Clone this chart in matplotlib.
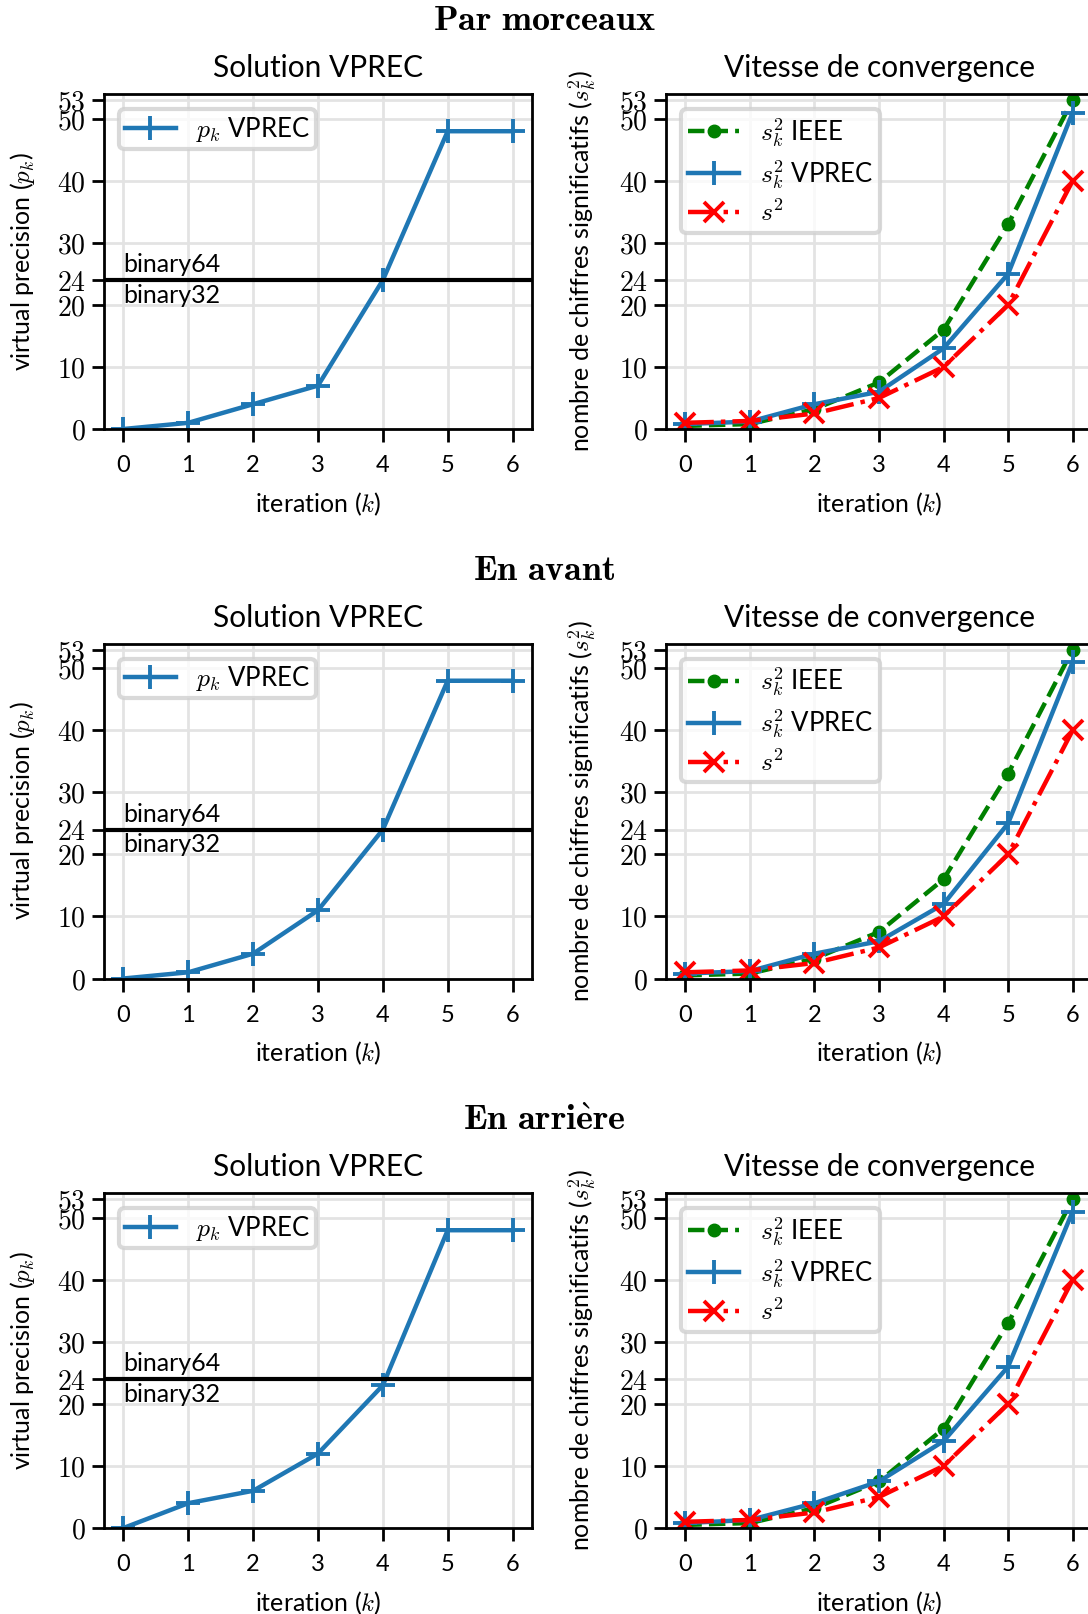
import numpy as np
import matplotlib.pyplot as plt

plt.rcParams['font.family'] = ['Lato', 'DejaVu Sans']
plt.rcParams['mathtext.fontset'] = 'cm'

iterations = [0, 1, 2, 3, 4, 5, 6]
row_titles = [r"$\mathbf{Par\ morceaux}$", r"$\mathbf{En\ avant}$", r"$\mathbf{En\ arri\grave{e}re}$"]

# virtual precision p_k per row
pk_vprec = [
    [0, 1, 4, 7, 24, 48, 48],
    [0, 1, 4, 11, 24, 48, 48],
    [0, 4, 6, 12, 23, 48, 48],
]
# significant digits
s2_ieee = [
    [0.5, 0.8, 3.2, 7.5, 16, 33, 53],
    [0.5, 0.8, 3.2, 7.5, 16, 33, 53],
    [0.5, 0.8, 3.2, 7.5, 16, 33, 53],
]
s2_vprec = [
    [0.8, 1.2, 4, 6, 13, 25, 51],
    [0.8, 1.2, 4, 6, 12, 25, 51],
    [0.8, 1.3, 4, 7.5, 14, 26, 51],
]
s2_ref = [
    [1, 1.3, 2.5, 5, 10, 20, 40],
    [1, 1.3, 2.5, 5, 10, 20, 40],
    [1, 1.3, 2.5, 5, 10, 20, 40],
]
yticks = [0, 10, 20, 24, 30, 40, 50, 53]

fig = plt.figure(figsize=(10.88, 16.14), dpi=100)
W, H = 1088, 1614
row_tops = [94, 643.5, 1193]
ax_h = 335

def style(ax):
    ax.set_ylim(0, 54)
    ax.set_xlim(-0.3, 6.3)
    ax.set_xticks(iterations)
    ax.set_yticks(yticks)
    ax.set_yticklabels([r"$%d$" % t for t in yticks])
    ax.tick_params(axis='both', direction='out', length=9, width=2, labelsize=17, pad=10)
    ax.tick_params(axis='y', labelsize=20, pad=4)
    ax.grid(True, color='#e3e3e3', linewidth=2)
    ax.set_axisbelow(True)
    for s in ax.spines.values():
        s.set_linewidth(2)
    ax.set_xlabel(r"iteration ($k$)", fontsize=18, labelpad=10)

def frame(leg):
    f = leg.get_frame()
    f.set_linewidth(3)
    f.set_edgecolor('#d0d0d0')

for r in range(3):
    top = row_tops[r]
    bottom = 1 - (top + ax_h) / H
    axl = fig.add_axes([104 / W, bottom, (532 - 104) / W, ax_h / H])
    axr = fig.add_axes([666 / W, bottom, (1092 - 666) / W, ax_h / H])

    style(axl)
    axl.plot(iterations, pk_vprec[r], '-+', color='#1f77b4', lw=3.2, ms=17, mew=2.8,
             label=r"$p_k$ VPREC")
    axl.axhline(24, color='black', lw=3)
    axl.text(0, 24.6, "binary64", fontsize=18, va='bottom', ha='left')
    axl.text(0, 23.4, "binary32", fontsize=18, va='top', ha='left')
    axl.set_ylabel(r"virtual precision ($p_k$)", fontsize=18, labelpad=14)
    axl.set_title("Solution VPREC", fontsize=21.5, pad=12)
    leg = axl.legend(loc='upper left', fontsize=18.5, handlelength=2.0, borderpad=0.2,
                     borderaxespad=0.6)
    frame(leg)

    style(axr)
    axr.plot(iterations, s2_ieee[r], '--o', color='green', lw=3.2, ms=9,
             label=r"$s_k^2$ IEEE")
    axr.plot(iterations, s2_vprec[r], '-+', color='#1f77b4', lw=3.2, ms=17, mew=2.8,
             label=r"$s_k^2$ VPREC")
    axr.plot(iterations, s2_ref[r], '-.x', color='red', lw=3.2, ms=15, mew=2.8,
             label=r"$s^2$")
    axr.set_ylabel(r"nombre de chiffres significatifs ($s_k^2$)", fontsize=18, labelpad=14)
    axr.set_title("Vitesse de convergence", fontsize=21.5, pad=12)
    leg = axr.legend(loc='upper left', fontsize=18.5, handlelength=2.0, borderpad=0.25,
                     labelspacing=0.35, borderaxespad=0.6)
    frame(leg)

    fig.text(0.5, 1 - (top - 74) / H, row_titles[r], fontsize=26, ha='center', va='center')

fig.savefig("out.png", dpi=100)
